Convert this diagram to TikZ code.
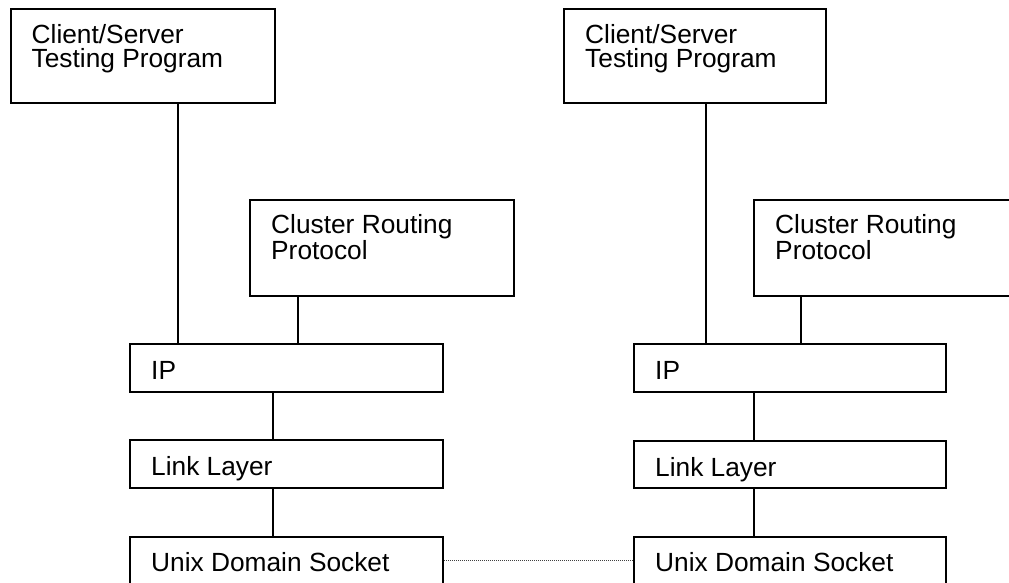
\documentclass[tikz,border=0pt]{standalone}
\usepackage{fontspec}
\setmainfont{Liberation Sans}
\begin{document}
\begin{tikzpicture}[x=1pt,y=-1pt,
  box/.style={draw=black, line width=2pt, rectangle, inner sep=0pt, anchor=north west, fill=none},
  lbl/.style={anchor=base west, inner sep=0pt, align=left, font=\fontsize{26.3}{24}\selectfont},
  link/.style={draw=black, line width=2pt},
  dotlink/.style={draw=black!75, line width=1pt, dash pattern=on 1pt off 1pt}]
\path[use as bounding box, clip] (0,0) rectangle (1009,582);
\fill[white] (0,0) rectangle (1009,582);
% ---- left stack
\node[box, minimum width=264.5pt, minimum height=94.5pt] (ctL) at (9.5,7.5) {};
\node[box, minimum width=264pt, minimum height=96pt] (crL) at (249,199) {};
\node[box, minimum width=313pt, minimum height=48pt] (ipL) at (129,343) {};
\node[box, minimum width=313pt, minimum height=48pt] (llL) at (129,439) {};
\node[box, minimum width=313pt, minimum height=70pt] (usL) at (129,536) {};
% ---- right stack
\node[box, minimum width=262pt, minimum height=94pt] (ctR) at (563,8) {};
\node[box, minimum width=264pt, minimum height=96pt] (crR) at (753,199) {};
\node[box, minimum width=312pt, minimum height=48pt] (ipR) at (633,343) {};
\node[box, minimum width=312pt, minimum height=47pt] (llR) at (633,440) {};
\node[box, minimum width=312pt, minimum height=70pt] (usR) at (633,536) {};
% ---- labels (two-line labels: base is the last line)
\node[lbl] (tctL) at ([xshift=22pt,yshift=-59.5pt]ctL.north west) {Client/Server\\Testing Program};
\node[lbl] (tcrL) at ([xshift=22pt,yshift=-60pt]crL.north west) {Cluster Routing\\Protocol};
\node[lbl] (tipL) at ([xshift=22pt,yshift=-36pt]ipL.north west) {IP};
\node[lbl] (tllL) at ([xshift=22pt,yshift=-36pt]llL.north west) {Link Layer};
\node[lbl] (tusL) at ([xshift=22pt,yshift=-35pt]usL.north west) {Unix Domain Socket};
\node[lbl] (tctR) at ([xshift=22pt,yshift=-59.5pt]ctR.north west) {Client/Server\\Testing Program};
\node[lbl] (tcrR) at ([xshift=22pt,yshift=-60pt]crR.north west) {Cluster Routing\\Protocol};
\node[lbl] (tipR) at ([xshift=22pt,yshift=-36pt]ipR.north west) {IP};
\node[lbl] (tllR) at ([xshift=22pt,yshift=-36pt]llR.north west) {Link Layer};
\node[lbl] (tusR) at ([xshift=22pt,yshift=-35pt]usR.north west) {Unix Domain Socket};
% ---- connector columns
\coordinate (xa) at (178,0);
\coordinate (xb) at (298,0);
\coordinate (xc) at (273,0);
\coordinate (xd) at (706,0);
\coordinate (xe) at (801,0);
\coordinate (xf) at (754,0);
% ---- connectors
\draw[link] (xa |- ctL.south) -- (xa |- ipL.north);
\draw[link] (xb |- crL.south) -- (xb |- ipL.north);
\draw[link] (xc |- ipL.south) -- (xc |- llL.north);
\draw[link] (xc |- llL.south) -- (xc |- usL.north);
\draw[link] (xd |- ctR.south) -- (xd |- ipR.north);
\draw[link] (xe |- crR.south) -- (xe |- ipR.north);
\draw[link] (xf |- ipR.south) -- (xf |- llR.north);
\draw[link] (xf |- llR.south) -- (xf |- usR.north);
\draw[dotlink] ([yshift=-24pt]usL.north east) -- ([yshift=-24pt]usR.north west);
\end{tikzpicture}
\end{document}
